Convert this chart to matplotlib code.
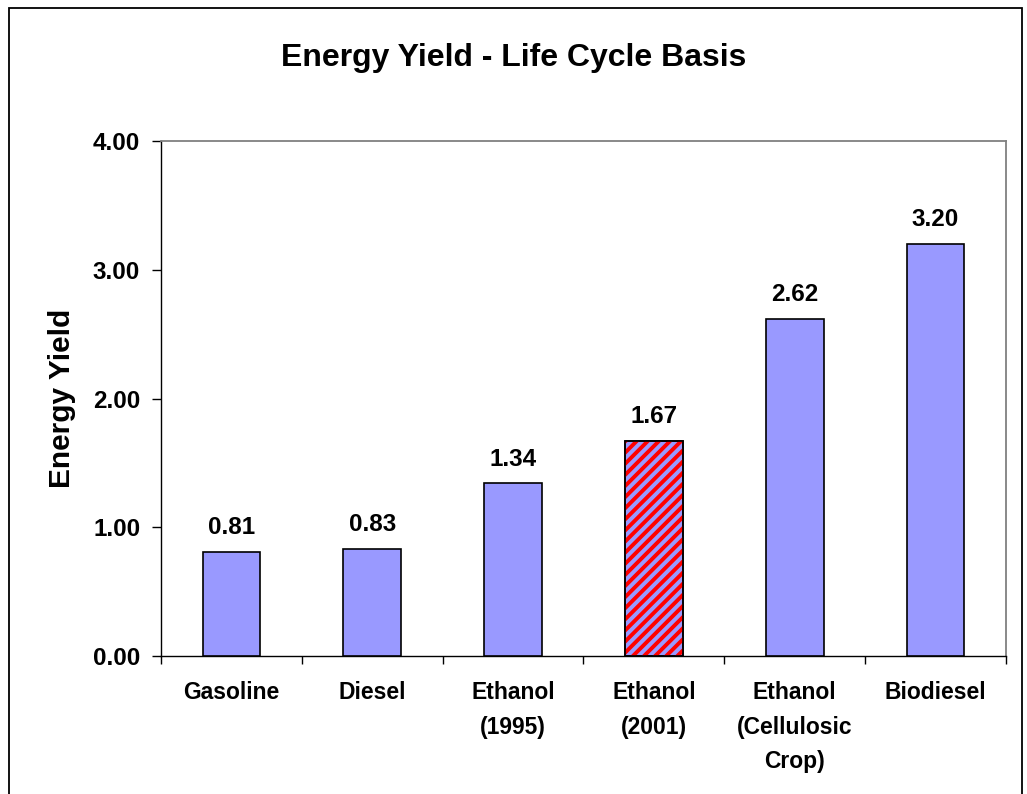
import matplotlib
matplotlib.use("Agg")
import matplotlib.pyplot as plt
from matplotlib.patches import Rectangle
from matplotlib.backend_bases import GraphicsContextBase
import numpy as np

categories = ["Gasoline", "Diesel", "Ethanol\n(1995)", "Ethanol\n(2001)",
              "Ethanol\n(Cellulosic\nCrop)", "Biodiesel"]
values = [0.81, 0.83, 1.34, 1.67, 2.62, 3.20]
yticks = [0.0, 1.0, 2.0, 3.0, 4.0]
highlight_index = 3

# denser hatch than the default '/' (even line count so the tile repeats cleanly)
_orig_hatch = GraphicsContextBase.get_hatch_path
def _hatch_path(self, density=6.0):
    return _orig_hatch(self, density=18.0)
GraphicsContextBase.get_hatch_path = _hatch_path

plt.rcParams['font.family'] = ['Liberation Sans', 'DejaVu Sans']
plt.rcParams['hatch.linewidth'] = 2.8

fig = plt.figure(figsize=(10.27, 7.94), dpi=100)
fig.patch.set_facecolor('white')
# outer frame
fig.add_artist(Rectangle((9/1027, -0.01), (1022-9)/1027, 1 - 8/794 + 0.01,
                         transform=fig.transFigure, fill=False,
                         edgecolor='black', linewidth=1.3))

ax = fig.add_axes([161/1027, 1 - 656/794, (1006-161)/1027, (656-141)/794])
x = np.arange(len(categories))
bars = ax.bar(x, values, width=0.41, color='#9999FF', edgecolor='black', linewidth=1.2, zorder=3)

# red hatch overlay on highlighted bar
ax.bar(x[highlight_index], values[highlight_index], width=0.41, color='none',
       edgecolor='#FF0000', linewidth=0, hatch='/', zorder=4)
ax.bar(x[highlight_index], values[highlight_index], width=0.41, color='none',
       edgecolor='black', linewidth=1.2, zorder=5)

for xi, v in zip(x, values):
    ax.text(xi, v + 0.1, f"{v:.2f}", ha='center', va='bottom',
            fontsize=17.5, fontweight='bold')

ax.set_xlim(-0.5, len(categories) - 0.5)
ax.set_ylim(0, 4)
ax.set_yticks(yticks)
ax.set_yticklabels([f"{t:.2f}" for t in yticks], fontsize=17.5, fontweight='bold')
ax.set_xticks(x)
ax.set_xticklabels(categories, fontsize=16.5, fontweight='bold', linespacing=1.65)
ax.set_xticks(np.arange(len(categories) + 1) - 0.5, minor=True)
ax.tick_params(axis='x', which='major', length=0, pad=18)
ax.tick_params(axis='x', which='minor', length=6, width=1, direction='out')
ax.tick_params(axis='y', length=6.5, width=1, direction='out', pad=8.5)
ax.set_ylabel("Energy Yield", fontsize=21.5, fontweight='bold', labelpad=12)

for s in ['top', 'right']:
    ax.spines[s].set_color('#808080')
    ax.spines[s].set_linewidth(1.3)
for s in ['left', 'bottom']:
    ax.spines[s].set_color('black')
    ax.spines[s].set_linewidth(1.0)

fig.text(0.5, 1 - 58/794, "Energy Yield - Life Cycle Basis", ha='center', va='center',
         fontsize=23, fontweight='bold')

fig.savefig("out.png", dpi=100, facecolor='white')
